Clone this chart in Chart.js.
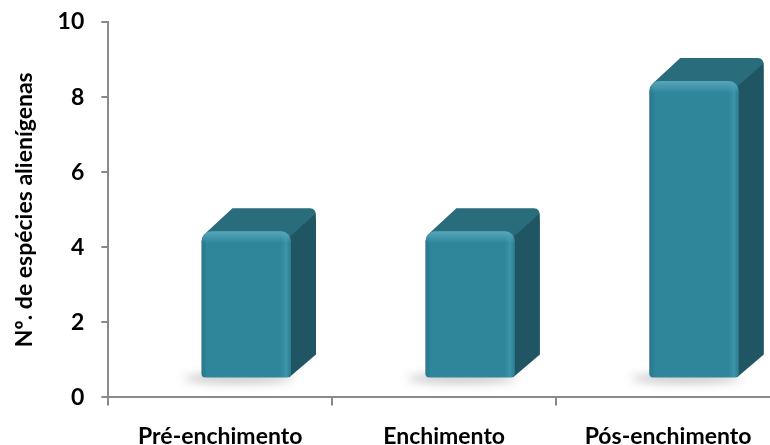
<!DOCTYPE html>
<html>
<head>
<meta charset="utf-8">
<script src="https://cdn.jsdelivr.net/npm/chart.js@4.4.1/dist/chart.umd.min.js"></script>
<style>
    html, body { margin: 0; padding: 0; background: #fff; overflow: hidden; }
    #wrap { width: 780px; height: 445px; }
</style>
</head>
<body>
<div id="wrap"><canvas id="chart_especies" width="780" height="445"></canvas></div>
<script>
var categorias = ["Pré-enchimento", "Enchimento", "Pós-enchimento"];
var valores = [4, 4, 8];
var ticks_y = [0, 2, 4, 6, 8, 10];
var titulo_y = "Nº. de espécies alienígenas";

var cor_frente = "rgb(47, 133, 154)";
var cor_topo = "rgb(41, 108, 124)";
var cor_lado = "rgb(32, 86, 100)";
var cor_eixo = "#8a8a8a";
var fonte = { family: "Lato", weight: "bold", size: 23 };

// offsets of the fake 3D projection (pixels)
var desloc_x = 26, prof_x = 25, prof_y = -23, sobe_topo = 16, sobe_base = 19;

var barras3d = {
    id: "barras3d",
    beforeDatasetDraw: function (chart, args) {
        var ctx = chart.ctx;
        args.meta.data.forEach(function (bar) {
            var p = bar.getProps(["x", "y", "base", "width"], true);
            var l = p.x - p.width / 2 + desloc_x;
            var r = l + p.width;
            var t = p.y - sobe_topo;
            var b = p.base - sobe_base;

            // sombra
            ctx.save();
            ctx.filter = "blur(5px)";
            ctx.fillStyle = "rgba(0,0,0,0.22)";
            ctx.beginPath();
            ctx.ellipse((l + r) / 2 - 8, b + 1, (r - l) / 2 + 10, 5, 0, 0, Math.PI * 2);
            ctx.fill();
            ctx.restore();

            // topo
            ctx.save();
            ctx.lineJoin = "round";
            ctx.fillStyle = cor_topo;
            ctx.beginPath();
            ctx.moveTo(l + 4, t + 2);
            ctx.lineTo(l + prof_x + 6, t + prof_y);
            ctx.lineTo(r + prof_x - 6, t + prof_y);
            ctx.quadraticCurveTo(r + prof_x, t + prof_y, r + prof_x, t + prof_y + 8);
            ctx.lineTo(r, t + 8);
            ctx.closePath();
            ctx.fill();

            // lado
            ctx.fillStyle = cor_lado;
            ctx.beginPath();
            ctx.moveTo(r - 2, t + 6);
            ctx.lineTo(r + prof_x - 1, t + prof_y + 6);
            ctx.quadraticCurveTo(r + prof_x, t + prof_y + 8, r + prof_x, t + prof_y + 12);
            ctx.lineTo(r + prof_x, b + prof_y);
            ctx.lineTo(r - 2, b);
            ctx.closePath();
            ctx.fill();

            // frente
            var g = ctx.createLinearGradient(l, 0, r, 0);
            g.addColorStop(0, "rgb(40, 118, 138)");
            g.addColorStop(0.06, cor_frente);
            g.addColorStop(0.88, cor_frente);
            g.addColorStop(0.95, "rgb(58, 148, 170)");
            g.addColorStop(1, "rgb(44, 122, 142)");
            ctx.fillStyle = g;
            ctx.beginPath();
            ctx.roundRect(l, t, r - l, b - t, [10, 10, 4, 4]);
            ctx.fill();

            var gt = ctx.createLinearGradient(0, t, 0, t + 12);
            gt.addColorStop(0, "rgba(90, 170, 190, 0.9)");
            gt.addColorStop(1, "rgba(90, 170, 190, 0)");
            ctx.fillStyle = gt;
            ctx.beginPath();
            ctx.roundRect(l, t, r - l, 12, [10, 10, 0, 0]);
            ctx.fill();
            ctx.restore();
        });
        return false;
    }
};

var ctx_especies = document.getElementById("chart_especies");
var chart_especies = new Chart(ctx_especies, {
    type: "bar",
    data: {
        labels: categorias,
        datasets: [
            {
                label: titulo_y,
                data: valores,
                backgroundColor: cor_frente,
                barPercentage: 0.8,
                categoryPercentage: 0.5,
            },
        ],
    },
    options: {
        responsive: false,
        animation: false,
        layout: { padding: { top: 22, left: 11, right: 0, bottom: -22 } },
        plugins: {
            legend: { display: false },
            tooltip: { enabled: false },
        },
        scales: {
            x: {
                border: { display: true, color: cor_eixo, width: 2 },
                grid: { display: true, offset: true, drawOnChartArea: false, drawTicks: true, tickLength: 8, color: cor_eixo, lineWidth: 2 },
                ticks: {
                    color: "#000",
                    padding: 17,
                    maxRotation: 0,
                    font: fonte,
                },
            },
            y: {
                min: 0,
                max: 10,
                afterBuildTicks: function (axis) {
                    axis.ticks = ticks_y.map(function (v) { return { value: v }; });
                },
                afterFit: function (axis) {
                    axis.paddingTop = 0;
                },
                border: { display: true, color: cor_eixo, width: 2 },
                grid: { display: true, drawOnChartArea: false, drawTicks: true, tickLength: 7, color: cor_eixo, lineWidth: 2 },
                ticks: {
                    color: "#000",
                    padding: 17,
                    font: fonte,
                },
                title: {
                    display: true,
                    text: titulo_y,
                    color: "#000",
                    padding: { top: 0, bottom: 2 },
                    font: fonte,
                },
            },
        },
    },
    plugins: [barras3d],
});
</script>
</body>
</html>
